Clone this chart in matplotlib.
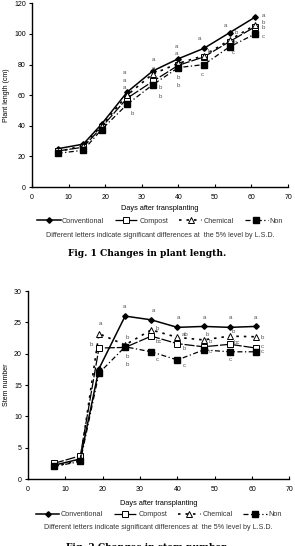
"""Plant length and stem number over days after transplanting (two stacked panels)."""
import matplotlib
matplotlib.use("Agg")
import matplotlib.pyplot as plt

plt.rcParams["font.family"] = ["Liberation Sans", "DejaVu Sans"]

days = [7, 14, 19, 26, 33, 40, 47, 54, 61]
treatments = ["Conventional", "Compost", "Chemical", "Non"]

# plant length (cm)
length_conv = [25, 28, 41, 62, 75.8, 83.8, 90.6, 100.8, 111]
length_compost = [23.5, 26, 39, 58, 69, 79.5, 85, 95, 104.7]
length_chem = [23, 27, 40, 60, 73.8, 80.8, 85.8, 96, 105.8]
length_non = [22, 24, 37.5, 54, 66.8, 78, 80, 91.6, 100]

# stem number
stem_conv = [2.2, 3.2, 17.6, 26.0, 25.4, 24.2, 24.35, 24.2, 24.35]
stem_compost = [2.5, 3.7, 20.9, 21.0, 22.8, 21.6, 21.1, 21.5, 20.9]
stem_chem = [2.0, 3.0, 23.2, 21.4, 23.8, 22.6, 22.2, 22.8, 22.7]
stem_non = [2.0, 2.8, 16.9, 21.1, 20.3, 19.0, 20.6, 20.3, 20.3]

# L.S.D. letters: (day, value, letter)
length_letters = [
    (25.4, 75.1, "a"), (25.4, 69.9, "a"), (25.4, 64.7, "a"), (27.3, 48.3, "b"),
    (33.1, 83.6, "a"), (33.1, 77.7, "a"), (35.0, 65.3, "b"), (35.0, 59.4, "b"),
    (39.4, 92.1, "a"), (39.4, 87.5, "a"), (39.9, 71.8, "b"), (39.9, 66.6, "b"),
    (45.9, 97.3, "a"), (48.4, 88.8, "b"), (46.5, 73.2, "c"),
    (53.0, 105.8, "a"), (55.8, 101.2, "b"), (55.5, 94.7, "b"), (55.0, 88.2, "c"),
    (63.2, 112.3, "a"), (63.2, 107.8, "b"), (63.2, 103.9, "b"), (63.2, 98.6, "c"),
]
stem_letters = [
    (19.3, 24.8, "a"), (17.0, 21.4, "b"),
    (25.8, 27.6, "a"), (26.7, 22.6, "b"), (26.7, 19.6, "b"), (26.7, 18.3, "b"),
    (33.5, 26.9, "a"), (34.6, 24.0, "b"), (35.1, 21.9, "bc"), (34.7, 19.1, "c"),
    (40.4, 25.7, "a"), (42.0, 23.1, "ab"), (41.8, 20.9, "b"), (41.8, 18.1, "c"),
    (47.1, 25.7, "a"), (48.1, 23.1, "b"), (48.7, 22.0, "b"), (48.7, 20.4, "c"),
    (54.1, 25.7, "a"), (55.0, 23.5, "b"), (55.9, 21.8, "bc"), (54.1, 19.1, "c"),
    (60.8, 25.7, "a"), (62.6, 22.6, "b"), (62.6, 21.2, "c"), (62.6, 20.4, "c"),
]

note = "Different letters indicate significant differences at  the 5% level by L.S.D."

styles = [
    dict(ls="-", lw=1.1, marker="D", ms=2.8, mfc="black", mec="black"),
    dict(ls=(0, (8, 1.5)), lw=0.9, marker="s", ms=4.2, mfc="white", mec="black", mew=0.7),
    dict(ls=(0, (1.5, 3)), lw=1.2, marker="^", ms=4.2, mfc="white", mec="black", mew=0.7),
    dict(ls=(0, (4, 2, 1, 2)), lw=0.9, marker="s", ms=4.2, mfc="black", mec="black"),
]


def draw_panel(ax, series, letters, ylim, yticks, ylabel, xlabelpad, legend_y, note_y):
    for name, vals, st in zip(treatments, series, styles):
        ax.plot(days, vals, color="black", label=name, **st)
    for d, v, t in letters:
        ax.text(d, v, t, fontsize=4.4, color="#555555", ha="center", va="center")
    ax.set_xlim(0, 70)
    ax.set_ylim(*ylim)
    ax.set_xticks(range(0, 71, 10))
    ax.set_yticks(yticks)
    ax.spines[["top", "right"]].set_visible(False)
    ax.spines[["left", "bottom"]].set_linewidth(1.0)
    ax.tick_params(axis="x", direction="in", length=2.5, labelsize=5, pad=5)
    ax.tick_params(axis="y", direction="out", length=2.5, labelsize=5, pad=2)
    ax.set_xlabel("Days after transplanting", fontsize=5.3, labelpad=xlabelpad)
    ax.set_ylabel(ylabel, fontsize=5, labelpad=3)
    ax.legend(loc="center", bbox_to_anchor=(0.5, legend_y), ncol=4, frameon=False,
              fontsize=5.2, handlelength=3.2, handletextpad=0.2, columnspacing=1.5,
              labelcolor="#333333")
    ax.text(0.5, note_y, note, transform=ax.transAxes, fontsize=5.1,
            color="#333333", ha="center", va="center")


fig = plt.figure(figsize=(2.95, 5.46), dpi=100)
ax1 = fig.add_axes([0.1085, 0.6575, 0.868, 0.3364])
ax2 = fig.add_axes([0.0949, 0.1227, 0.8864, 0.3443])

draw_panel(ax1, [length_conv, length_compost, length_chem, length_non], length_letters,
           (0, 120), range(0, 121, 20), "Plant length (cm)", 3, -0.185, -0.265)
draw_panel(ax2, [stem_conv, stem_compost, stem_chem, stem_non], stem_letters,
           (0, 30), range(0, 31, 5), "Stem number", 5, -0.19, -0.26)

fig.text(0.5, 1 - 254 / 546, "Fig. 1 Changes in plant length.", family="DejaVu Serif",
         fontweight="bold", fontsize=6.6, ha="center", va="center")
fig.text(0.5, -0.002, "Fig. 2 Changes in stem number.", family="DejaVu Serif",
         fontweight="bold", fontsize=6.6, ha="center", va="center")

fig.savefig("out.png", dpi=100)
